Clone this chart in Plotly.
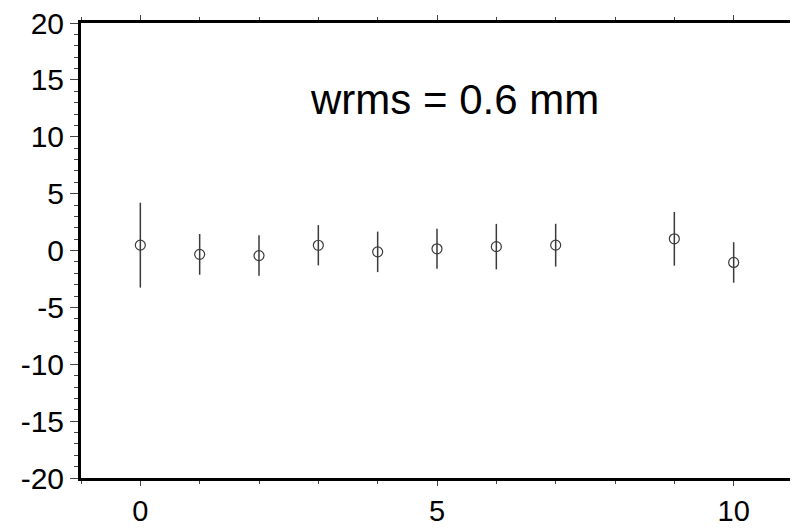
import plotly.graph_objects as go

x_vals = [0, 1, 2, 3, 4, 5, 6, 7, 9, 10]
y_vals = [0.47, -0.34, -0.45, 0.46, -0.12, 0.15, 0.34, 0.47, 1.03, -1.05]
err_vals = [3.73, 1.79, 1.78, 1.77, 1.78, 1.76, 2.0, 1.88, 2.36, 1.78]
x_ticks = [0, 5, 10]
y_ticks = [-20, -15, -10, -5, 0, 5, 10, 15, 20]
annotation_text = "wrms = 0.6 mm"

FONT = "Arial, Liberation Sans, sans-serif"

fig = go.Figure()
fig.add_trace(go.Scatter(
    x=x_vals, y=y_vals, mode="markers",
    marker=dict(symbol="circle-open", size=10, color="#3a3a3a", line=dict(width=1.2, color="#3a3a3a")),
    error_y=dict(type="data", array=err_vals, visible=True, color="#3a3a3a", thickness=1.5, width=0),
    showlegend=False,
))

fig.add_annotation(x=5.3, y=13.3, text=annotation_text, showarrow=False,
                   font=dict(family=FONT, size=42, color="black"), xanchor="center", yanchor="middle")

fig.update_layout(
    width=790, height=520,
    margin=dict(l=73, r=5, t=15, b=50, autoexpand=False),
    paper_bgcolor="white", plot_bgcolor="white",
    font=dict(family=FONT, size=30, color="black"),
)
fig.update_xaxes(
    range=[-1, 11], tickvals=x_ticks, ticktext=[str(v) for v in x_ticks],
    showgrid=False, zeroline=False, automargin=False, ticklabeloverflow="allow",
    showline=True, linewidth=3, linecolor="black", mirror="allticks",
    ticks="outside", ticklen=5, tickwidth=1, tickcolor="#444",
    ticklabelstandoff=0,
    minor=dict(dtick=1, tick0=0, ticks="outside", ticklen=3, tickwidth=1, tickcolor="#444", showgrid=False),
    tickfont=dict(family=FONT, size=29, color="black"),
)
fig.update_yaxes(
    range=[-20, 20], tickvals=y_ticks, ticktext=[str(v) for v in y_ticks],
    showgrid=False, zeroline=False, automargin=False, ticklabeloverflow="allow",
    showline=True, linewidth=3, linecolor="black", mirror="allticks",
    ticks="outside", ticklen=8, tickwidth=1, tickcolor="#444",
    minor=dict(dtick=1, tick0=0, ticks="outside", ticklen=4, tickwidth=1, tickcolor="#444", showgrid=False),
    tickfont=dict(family=FONT, size=30, color="black"),
)

fig.write_html("out.html")
